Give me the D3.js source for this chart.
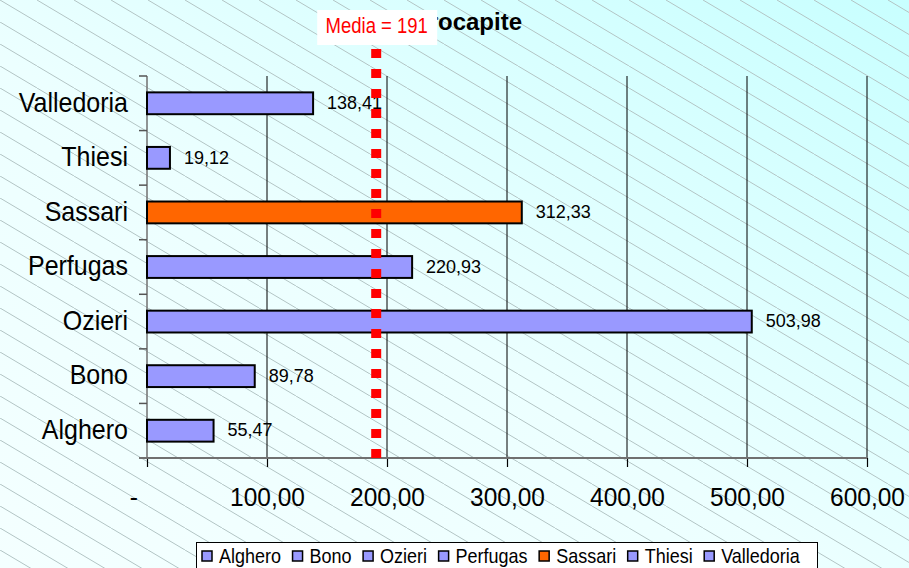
<!DOCTYPE html>
<html>
<head>
<meta charset="utf-8">
<script src="https://cdn.jsdelivr.net/npm/d3@7"></script>
<style>
	body { margin: 0; background: #fff; }
	svg { display: block; font-family: "Liberation Sans", Arial, sans-serif; }
</style>
</head>
<body>
<div id="graphContainer"></div>
<script>
// dati
var comuni = ["Alghero", "Bono", "Ozieri", "Perfugas", "Sassari", "Thiesi", "Valledoria"];
var valori = [55.47, 89.78, 503.98, 220.93, 312.33, 19.12, 138.41];
var evidenziato = "Sassari";
var media = 191;
var xTicks = [0, 100, 200, 300, 400, 500, 600];
var titolo = "Spesa procapite";

var width = 909, height = 568;
var plot = {left: 147, right: 867, top: 76, bottom: 458};

var coloreBarra = "#9999ff";
var coloreEvid = "#ff6600";

var it = d3.formatLocale({decimal: ",", thousands: ".", grouping: [3], currency: ["€", ""]});
var fmt = it.format(",.2f");

// il grafico originale è leggermente stirato in verticale
function stira(sel, k)
{
	sel.each(function() {
		var t = d3.select(this);
		var tx = +t.attr("x") || 0, ty = +t.attr("y") || 0;
		t.attr("x", 0).attr("y", 0)
			.attr("transform", `translate(${tx}, ${ty}) scale(1, ${k})`);
	});
}

var svg = d3.select("#graphContainer").append("svg")
	.attr("width", width)
	.attr("height", height);

/* sfondo: sfumatura + tratteggio diagonale */
var defs = svg.append("defs");
var grad = defs.append("linearGradient")
	.attr("id", "bg")
	.attr("x1", 0).attr("y1", 1).attr("x2", 1).attr("y2", 0);
grad.append("stop").attr("offset", "0%").attr("stop-color", "#f4ffff");
grad.append("stop").attr("offset", "45%").attr("stop-color", "#ecffff");
grad.append("stop").attr("offset", "100%").attr("stop-color", "#c8ffff");

var hw = 37, hh = 22;
var pat = defs.append("pattern")
	.attr("id", "hatch")
	.attr("patternUnits", "userSpaceOnUse")
	.attr("width", hw)
	.attr("height", hh);
[-1, 0, 1].forEach(function(k) {
	pat.append("line")
		.attr("x1", k * hw).attr("y1", 0)
		.attr("x2", (k + 1) * hw).attr("y2", hh)
		.attr("stroke", "#b2c4c4")
		.attr("stroke-width", 1);
});

// il titolo si vede solo a destra del riquadro della media
defs.append("clipPath").attr("id", "clipTitolo")
	.append("rect")
	.attr("x", 437).attr("y", 0)
	.attr("width", 200).attr("height", 50);

svg.append("rect").attr("width", width).attr("height", height).attr("fill", "url(#bg)");
svg.append("rect").attr("width", width).attr("height", height).attr("fill", "url(#hatch)");

/* scale */
var x = d3.scaleLinear()
	.domain([0, 600])
	.range([plot.left, plot.right]);

var ordine = comuni.slice().reverse();
var y = d3.scaleBand()
	.domain(ordine)
	.range([plot.top, plot.bottom])
	.paddingInner(0.6)
	.paddingOuter(0.3);

var dati = comuni.map(function(c, i) { return {Comune: c, Valore: valori[i]}; });

/* griglia verticale */
svg.append("g")
	.selectAll("line")
	.data(xTicks.filter(function(d) { return d > 0; }))
	.enter().append("line")
	.attr("x1", d => x(d)).attr("x2", d => x(d))
	.attr("y1", plot.top).attr("y2", plot.bottom)
	.attr("stroke", "#000")
	.attr("stroke-width", 1);

/* asse y */
var yAxis = svg.append("g");
yAxis.append("line")
	.attr("x1", plot.left).attr("x2", plot.left)
	.attr("y1", plot.top).attr("y2", plot.bottom)
	.attr("stroke", "#707070").attr("stroke-width", 1.5);
var step = y.step();
var bordi = d3.range(ordine.length + 1).map(function(i) { return plot.top + i * step; });
yAxis.selectAll(".ytick")
	.data(bordi).enter()
	.append("line")
	.attr("x1", plot.left - 8).attr("x2", plot.left)
	.attr("y1", d => d).attr("y2", d => d)
	.attr("stroke", "#555").attr("stroke-width", 1.5);
yAxis.selectAll(".ylab")
	.data(ordine).enter()
	.append("text")
	.attr("x", plot.left - 19)
	.attr("y", d => y(d) + y.bandwidth() / 2)
	.attr("dy", "0.3em")
	.attr("text-anchor", "end")
	.style("font-size", "25px")
	.attr("fill", "#000")
	.text(d => d)
	.call(stira, 1.1);

/* asse x */
var xAxis = d3.axisBottom(x)
	.tickValues(xTicks)
	.tickSize(9)
	.tickPadding(20)
	.tickFormat(function(d) { return d === 0 ? "-\u2007\u2007" : fmt(d); });

var gx = svg.append("g")
	.attr("transform", `translate(0, ${plot.bottom})`)
	.call(xAxis);
gx.select(".domain").remove();
gx.selectAll(".tick line").attr("stroke", "#000").attr("stroke-width", 1.2);
gx.selectAll(".tick text")
	.style("font-size", "24.5px")
	.style("font-family", "'Liberation Sans', Arial, sans-serif")
	.attr("fill", "#000")
	.call(stira, 1.08);
svg.append("line")
	.attr("x1", plot.left - 8).attr("x2", plot.right)
	.attr("y1", plot.bottom).attr("y2", plot.bottom)
	.attr("stroke", "#707070").attr("stroke-width", 2);

/* barre */
svg.append("g")
	.selectAll("rect")
	.data(dati).enter()
	.append("rect")
	.attr("x", x(0))
	.attr("y", d => y(d.Comune))
	.attr("width", d => x(d.Valore) - x(0))
	.attr("height", y.bandwidth())
	.attr("fill", d => d.Comune == evidenziato ? coloreEvid : coloreBarra)
	.attr("stroke", "#000")
	.attr("stroke-width", 2);

svg.append("g")
	.selectAll("text")
	.data(dati).enter()
	.append("text")
	.attr("x", d => x(d.Valore) + 14)
	.attr("y", d => y(d.Comune) + y.bandwidth() / 2)
	.attr("dy", "0.3em")
	.style("font-size", "18px")
	.attr("fill", "#000")
	.text(d => fmt(d.Valore))
	.call(stira, 1.05);

/* titolo (in parte coperto dall'etichetta della media) */
svg.append("g")
	.attr("clip-path", "url(#clipTitolo)")
	.append("text")
	.attr("x", 522)
	.attr("y", 30)
	.attr("text-anchor", "end")
	.style("font-size", "24px")
	.style("font-weight", "bold")
	.attr("fill", "#000")
	.text(titolo);

/* linea della media */
svg.append("line")
	.attr("x1", x(media)).attr("x2", x(media))
	.attr("y1", 49).attr("y2", plot.bottom)
	.attr("stroke", "#ff0000")
	.attr("stroke-width", 10)
	.attr("stroke-dasharray", "9 11");

svg.append("rect")
	.attr("x", x(media) - 59)
	.attr("y", 10)
	.attr("width", 120)
	.attr("height", 35)
	.attr("fill", "#fff");

svg.append("text")
	.attr("x", x(media) + 0.5)
	.attr("y", 33)
	.attr("text-anchor", "middle")
	.style("font-size", "18.5px")
	.attr("fill", "#ff0000")
	.text("Media = " + media)
	.call(stira, 1.15);

/* legenda */
var legend = svg.append("g").attr("class", "legend");
legend.append("rect")
	.attr("x", 196.5).attr("y", 542.5)
	.attr("width", 621).attr("height", 40)
	.attr("fill", "#fff")
	.attr("stroke", "#000");

var lx = 202;
comuni.forEach(function(c) {
	var item = legend.append("g").attr("transform", `translate(${lx}, 551)`);
	item.append("rect")
		.attr("width", 10).attr("height", 10)
		.attr("fill", c == evidenziato ? coloreEvid : coloreBarra)
		.attr("stroke", "#000")
		.attr("stroke-width", 1.5);
	var t = item.append("text")
		.attr("x", 17)
		.attr("y", 12)
		.style("font-size", "18px")
		.attr("fill", "#000")
		.text(c);
	lx += 17 + t.node().getComputedTextLength() + 11.5;
	t.call(stira, 1.08);
});
</script>
</body>
</html>
